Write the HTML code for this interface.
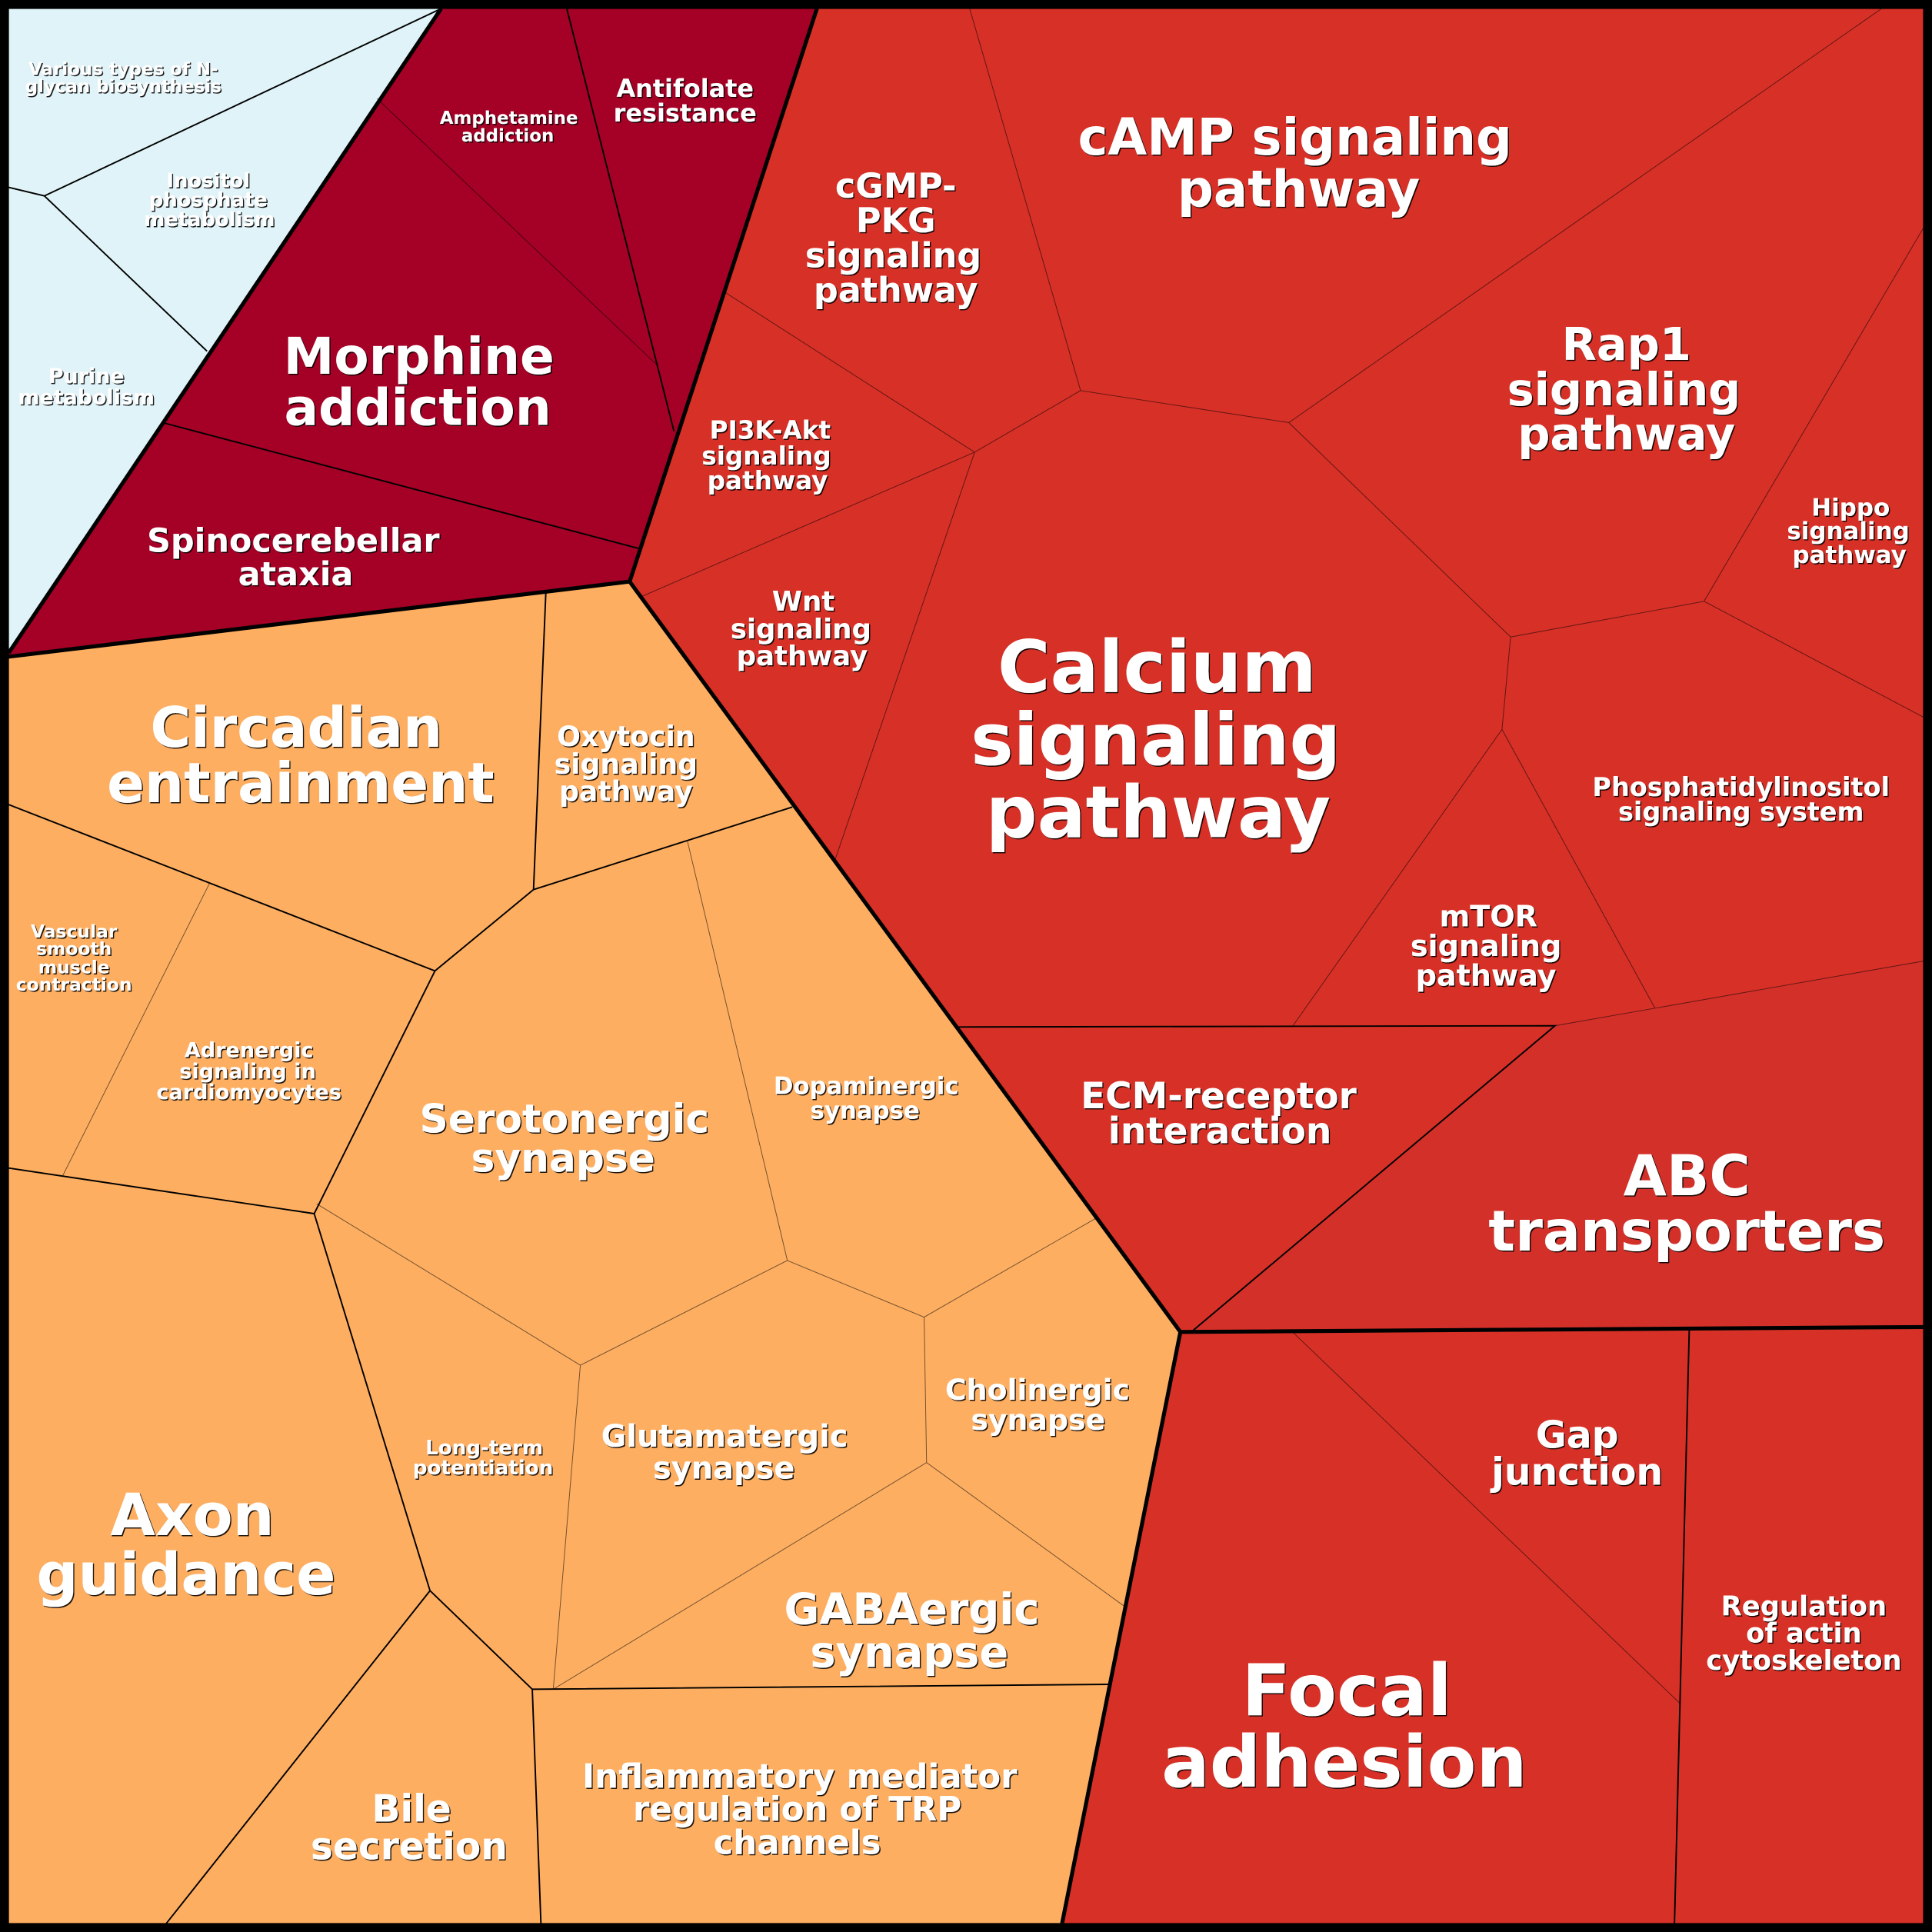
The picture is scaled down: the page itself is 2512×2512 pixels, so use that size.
<!DOCTYPE html>
<html><head><meta charset="utf-8"><style>
html,body{margin:0;padding:0;background:#000}
svg{display:block}
text{font-family:"DejaVu Sans",sans-serif;font-weight:bold;fill:#fff;text-anchor:middle}
.k{stroke:#000;stroke-width:1.2;fill:none}
.f{stroke:#000;stroke-opacity:.55;stroke-width:.6;fill:none}
.h{stroke:#000;stroke-width:3.2;fill:none}
</style></head><body>
<svg xmlns="http://www.w3.org/2000/svg" width="2512" height="2512" viewBox="0 0 1568 1568">
<defs><filter id="s" x="-5%" y="-5%" width="110%" height="110%"><feDropShadow dx="0.9" dy="0.9" stdDeviation="0.15" flood-color="#000" flood-opacity="0.9"/></filter></defs>
<rect width="1568" height="1568" fill="#000"/>
<polygon points="7,7 358,7 7,530" fill="#e0f3f8"/>
<polygon points="358,7 663,7 511,472 7,533 7,530" fill="#a50026"/>
<polygon points="663,7 1561,7 1561,1077 958,1081 511,472" fill="#d63027"/>
<polygon points="511,472 958,1081 862,1561 7,1561 7,533" fill="#fdae61"/>
<polygon points="958,1081 1561,1077 1561,1561 862,1561" fill="#d73027"/>
<polygon points="1262,832.5 1561,780 1561,1077 968,1080" fill="#d3302a"/>
<g class="k">
<path d="M358,7L36,159M7,152L36,159M36,159L168,285"/>
<path d="M460,7L547,350M132,343L518,445"/>
<path d="M778,833.5L1262,832.5L968,1080"/>
<path d="M443,481L433,722L643,655M433,722L353,788L7,653M7,948L255,985L353,788M255,985L349,1291L432,1371L901,1367M349,1291L135,1561M432,1371L439,1561"/>
<path d="M1371,1079L1359,1561"/>
</g>
<g class="f">
<path d="M306,80L534,297"/>
<path d="M787,7L877,317L1046,343L1527,7M877,317L791,367L588,237M791,367L521,484M791,367L678,697M1046,343L1226,517L1383,488L1561,185M1383,488L1561,582M1226,517L1219,592L1049,833M1219,592L1343,818M1262,832.5L1561,780"/>
<path d="M170,717L51,954M558,683L639,1023L750,1069L889,989M750,1069L752,1187M639,1023L471,1108L257,977M471,1108L449,1371L752,1187L913,1304"/>
<path d="M1049,1081L1364,1383"/>
</g>
<g class="h">
<path d="M358,7L7,530M663,7L511,472L7,533M511,472L958,1081L862,1561M958,1081L1561,1077"/>
</g>
<rect x="3.5" y="3.5" width="1561" height="1561" fill="none" stroke="#000" stroke-width="7.5"/>
<g filter="url(#s)">
<g font-size="14.3"><text x="100" y="61">Various types of N-</text><text x="100" y="75">glycan biosynthesis</text></g>
<g font-size="16.1"><text x="169" y="152">Inositol</text><text x="169" y="167.5">phosphate</text><text x="170" y="183.5">metabolism</text></g>
<g font-size="16.8"><text x="70" y="311">Purine</text><text x="70" y="328">metabolism</text></g>
<g font-size="41.2"><text x="340" y="303.5">Morphine</text><text x="339" y="345">addiction</text></g>
<g font-size="26.8"><text x="238" y="448">Spinocerebellar</text><text x="240" y="475">ataxia</text></g>
<g font-size="19.9"><text x="556" y="78.5">Antifolate</text><text x="556" y="98.5">resistance</text></g>
<g font-size="14.3"><text x="413" y="100.5">Amphetamine</text><text x="412" y="115">addiction</text></g>
<g font-size="41"><text x="1051" y="125.5">cAMP signaling</text><text x="1054" y="167.5">pathway</text></g>
<g font-size="27.8"><text x="727" y="160.5">cGMP-</text><text x="727" y="188.5">PKG</text><text x="725" y="217">signaling</text><text x="727" y="245">pathway</text></g>
<g font-size="20.4"><text x="625" y="356">PI3K-Akt</text><text x="622" y="377">signaling</text><text x="623" y="397">pathway</text></g>
<g font-size="22.2"><text x="652" y="495.5">Wnt</text><text x="650" y="518">signaling</text><text x="651" y="540">pathway</text></g>
<g font-size="58.3"><text x="939" y="561.5">Calcium</text><text x="938" y="620.5">signaling</text><text x="940" y="679.5">pathway</text></g>
<g font-size="36.8"><text x="1320" y="292">Rap1</text><text x="1318" y="329">signaling</text><text x="1320" y="365">pathway</text></g>
<g font-size="19.3"><text x="1502" y="418.5">Hippo</text><text x="1500" y="437.5">signaling</text><text x="1501" y="457">pathway</text></g>
<g font-size="20.9"><text x="1413" y="646">Phosphatidylinositol</text><text x="1413" y="666">signaling system</text></g>
<g font-size="23.8"><text x="1208" y="752">mTOR</text><text x="1206" y="776">signaling</text><text x="1206" y="800">pathway</text></g>
<g font-size="29.3"><text x="989" y="899.5">ECM-receptor</text><text x="990" y="928">interaction</text></g>
<g font-size="45.4"><text x="1369" y="970">ABC</text><text x="1369" y="1015">transporters</text></g>
<g font-size="58"><text x="1093" y="1392">Focal</text><text x="1091" y="1450">adhesion</text></g>
<g font-size="30.4"><text x="1280" y="1175">Gap</text><text x="1280" y="1205">junction</text></g>
<g font-size="22"><text x="1464" y="1311">Regulation</text><text x="1464" y="1333">of actin</text><text x="1464" y="1355">cytoskeleton</text></g>
<g font-size="44.9"><text x="240.5" y="606">Circadian</text><text x="244" y="651">entrainment</text></g>
<g font-size="22.6"><text x="508" y="605.5">Oxytocin</text><text x="508" y="628">signaling</text><text x="508" y="650">pathway</text></g>
<g font-size="14.6"><text x="60" y="761">Vascular</text><text x="60" y="775">smooth</text><text x="60" y="790">muscle</text><text x="60" y="804">contraction</text></g>
<g font-size="16.9"><text x="202" y="858">Adrenergic</text><text x="201" y="875">signaling in</text><text x="202" y="892">cardiomyocytes</text></g>
<g font-size="32.3"><text x="458" y="919">Serotonergic</text><text x="457" y="951">synapse</text></g>
<g font-size="19.2"><text x="703" y="888">Dopaminergic</text><text x="702" y="908">synapse</text></g>
<g font-size="23.6"><text x="842" y="1136">Cholinergic</text><text x="842.5" y="1160.5">synapse</text></g>
<g font-size="24.9"><text x="588" y="1174">Glutamatergic</text><text x="587.5" y="1200">synapse</text></g>
<g font-size="16.3"><text x="393" y="1180.5">Long-term</text><text x="392" y="1196.5">potentiation</text></g>
<g font-size="34.8"><text x="740" y="1318">GABAergic</text><text x="738" y="1353">synapse</text></g>
<g font-size="47.2"><text x="156" y="1246">Axon</text><text x="151" y="1294">guidance</text></g>
<g font-size="30.4"><text x="334" y="1478.5">Bile</text><text x="332" y="1509">secretion</text></g>
<g font-size="27.1"><text x="649" y="1451">Inflammatory mediator</text><text x="647" y="1477.5">regulation of TRP</text><text x="647" y="1504.5">channels</text></g>
</g>
</svg>
</body></html>
